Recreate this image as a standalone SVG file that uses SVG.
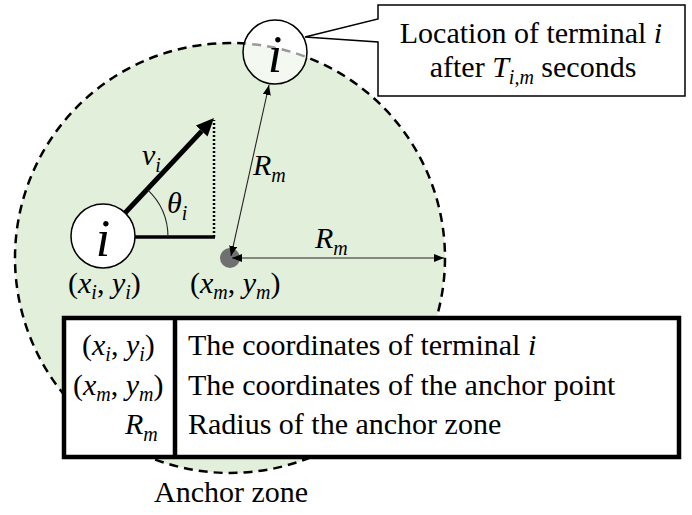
<svg xmlns="http://www.w3.org/2000/svg" width="692" height="515" viewBox="0 0 692 515">
<style>
.t{font-family:"Liberation Serif","Times New Roman",serif;font-size:30px;fill:#000}
.it{font-style:italic}
.sb{font-size:20px;font-style:italic}
.big{font-family:"Liberation Serif","Times New Roman",serif;font-size:52px;font-style:italic;fill:#000}
.thin{stroke:#222;stroke-width:1.1;fill:none}
</style>
<defs>
<marker id="ah" viewBox="0 0 10 8" refX="10" refY="4" markerWidth="10" markerHeight="8" markerUnits="userSpaceOnUse" orient="auto-start-reverse">
<path d="M0,0 L10,4 L0,8 z" fill="#000"/>
</marker>
<marker id="bh" viewBox="0 0 18 16" refX="0" refY="8" markerWidth="18" markerHeight="16" markerUnits="userSpaceOnUse" orient="auto">
<path d="M0,0 L18,8 L0,16 z" fill="#000"/>
</marker>
</defs>

<g id="anchor-zone">
<circle cx="230" cy="258" r="215" fill="#e2efda" stroke="#000" stroke-width="2.5" stroke-dasharray="9,6"/>
</g>

<g id="anchor-point">
<circle cx="230" cy="258" r="10" fill="#707070"/>
</g>

<g id="terminal-start">
<circle cx="103" cy="236" r="32" fill="#fff" stroke="#000" stroke-width="1.5"/>
<text class="big" x="103" y="256" text-anchor="middle">i</text>
</g>

<g id="terminal-end">
<circle cx="275" cy="52" r="32" fill="#fff" fill-opacity="0.6" stroke="#000" stroke-width="1.5"/>
<text class="big" x="275" y="72" text-anchor="middle">i</text>
</g>

<g id="connectors">
<line x1="135" y1="237" x2="215" y2="237" stroke="#000" stroke-width="3.5"/>
<line x1="214" y1="237" x2="214" y2="120" stroke="#000" stroke-width="2.5" stroke-dasharray="2,2"/>
<line x1="125" y1="213" x2="201.7" y2="131.1" stroke="#000" stroke-width="5" marker-end="url(#bh)"/>
<path d="M168,237 A65,65 0 0 0 147.7,189.9" class="thin" stroke-width="1.5"/>
<line x1="231" y1="256" x2="269" y2="85" class="thin" marker-start="url(#ah)" marker-end="url(#ah)"/>
<line x1="232" y1="258" x2="444" y2="258" class="thin" marker-start="url(#ah)" marker-end="url(#ah)"/>
</g>

<g id="labels">
<text class="t" x="142" y="165"><tspan class="it">v</tspan><tspan class="sb" dy="7">i</tspan></text>
<text class="t" x="167" y="213"><tspan class="it">θ</tspan><tspan class="sb" dy="7">i</tspan></text>
<text class="t" x="253" y="175"><tspan class="it">R</tspan><tspan class="sb" dy="7">m</tspan></text>
<text class="t" x="315" y="248"><tspan class="it">R</tspan><tspan class="sb" dy="7">m</tspan></text>
<text class="t" x="68" y="293">(<tspan class="it">x</tspan><tspan class="sb" dy="6">i</tspan><tspan dy="-6">, </tspan><tspan class="it">y</tspan><tspan class="sb" dy="6">i</tspan><tspan dy="-6">)</tspan></text>
<text class="t" x="190" y="293">(<tspan class="it">x</tspan><tspan class="sb" dy="6">m</tspan><tspan dy="-6">, </tspan><tspan class="it">y</tspan><tspan class="sb" dy="6">m</tspan><tspan dy="-6">)</tspan></text>
<text class="t" x="154" y="502">Anchor zone</text>
</g>

<g id="callout">
<path d="M378,5 H685 V96 H378 V42 L305,37 L378,19 Z" fill="#fff" stroke="#000" stroke-width="1.5"/>
<text class="t" x="531" y="43" text-anchor="middle">Location of terminal <tspan class="it">i</tspan></text>
<text class="t" x="533" y="77" text-anchor="middle">after <tspan class="it">T</tspan><tspan class="sb" dy="7">i,m</tspan><tspan dy="-7"> seconds</tspan></text>
</g>

<g id="legend">
<rect x="64" y="318" width="615" height="139" fill="#fff" stroke="#000" stroke-width="4.5"/>
<line x1="175" y1="318" x2="175" y2="457" stroke="#000" stroke-width="4.5"/>
<text class="t" x="82" y="355">(<tspan class="it">x</tspan><tspan class="sb" dy="6">i</tspan><tspan dy="-6">, </tspan><tspan class="it">y</tspan><tspan class="sb" dy="6">i</tspan><tspan dy="-6">)</tspan></text>
<text class="t" x="73" y="395">(<tspan class="it">x</tspan><tspan class="sb" dy="6">m</tspan><tspan dy="-6">, </tspan><tspan class="it">y</tspan><tspan class="sb" dy="6">m</tspan><tspan dy="-6">)</tspan></text>
<text class="t" x="125" y="434"><tspan class="it">R</tspan><tspan class="sb" dy="7">m</tspan></text>
<text class="t" x="188" y="355">The coordinates of terminal <tspan class="it">i</tspan></text>
<text class="t" x="188" y="395">The coordinates of the anchor point</text>
<text class="t" x="188" y="434">Radius of the anchor zone</text>
</g>
</svg>
